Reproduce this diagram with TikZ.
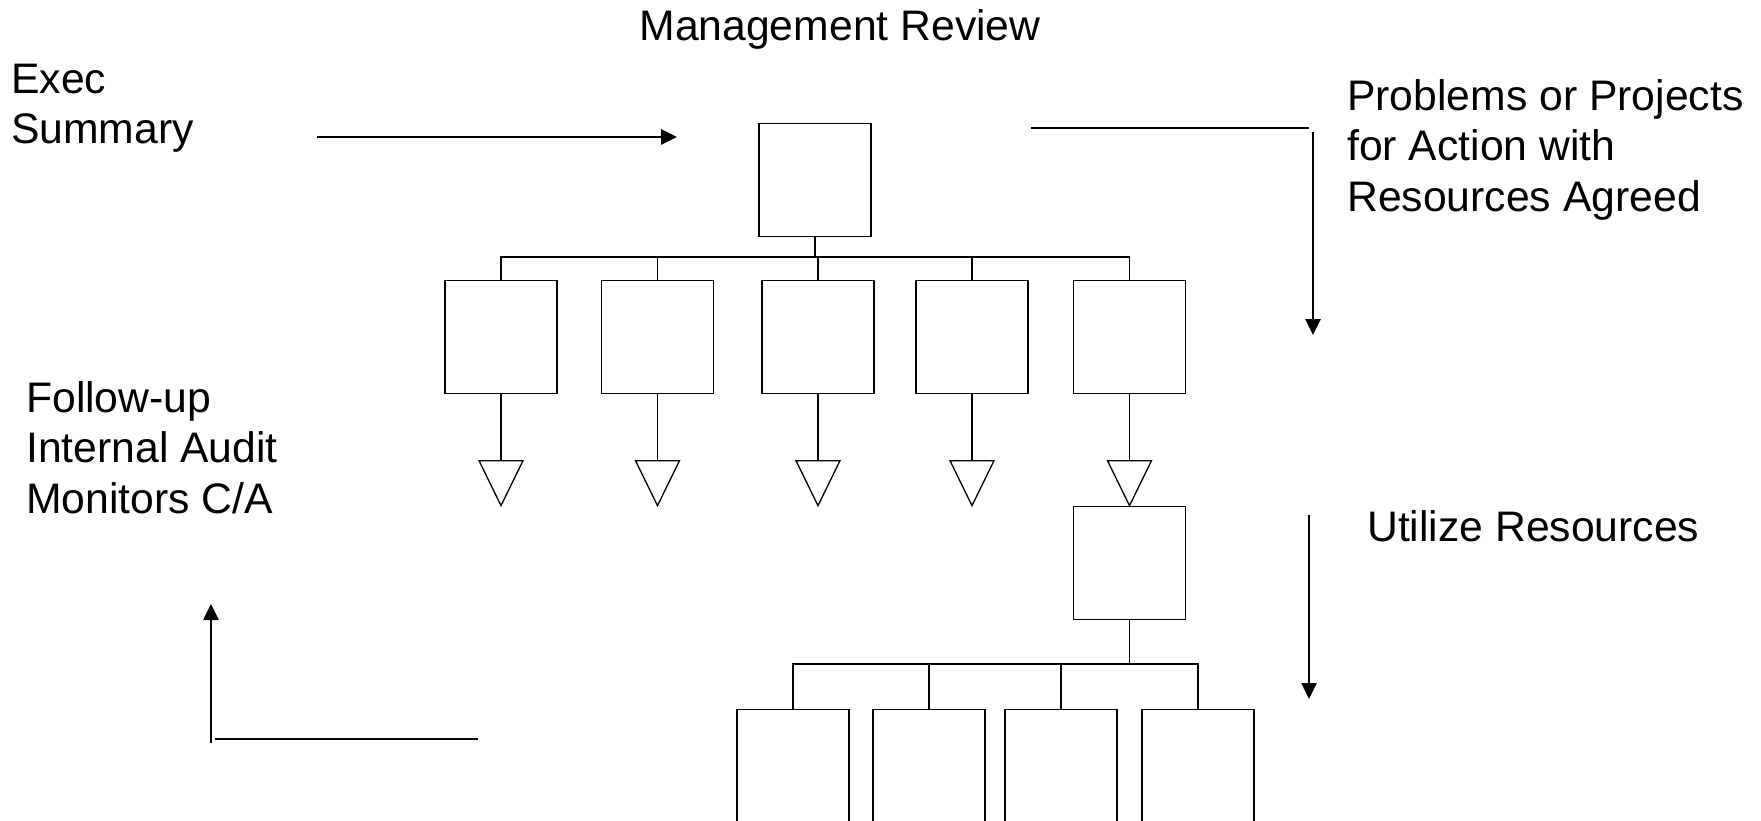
\documentclass[tikz,border=0pt]{standalone}
\usepackage{fontspec}
\setmainfont{Liberation Sans}
\usetikzlibrary{arrows.meta,shapes.geometric}
\begin{document}
\begin{tikzpicture}[x=1pt,y=-1pt,
  box/.style={draw=black, line width=1.3pt, minimum width=112pt, minimum height=113pt, inner sep=0pt, anchor=north},
  lowbox/.style={box, minimum height=125pt},
  tri/.style={draw=black, line width=1.3pt, isosceles triangle, shape border rotate=-90,
    isosceles triangle stretches, minimum width=44pt, minimum height=45pt, inner sep=0pt, anchor=north},
  wire/.style={draw=black, line width=1.3pt},
  flow/.style={draw=black, line width=2.6pt},
  arr/.style={flow, -{Triangle[length=16pt,width=15pt]}},
  lbl/.style={inner sep=0pt, font=\fontsize{42.7}{50.5}\selectfont, align=left},
]
% canvas
\fill[white] (0,0) rectangle (1761,821);
\useasboundingbox (0,0) rectangle (1761,821);

% labels
\node[lbl, anchor=base] (title) at (840,41) {Management Review};
\node[lbl, anchor=north west] (exec) at (11,63.5) {Exec\\Summary};
\node[lbl, anchor=north west] (probs) at (1347,79) {Problems or Projects\\for Action with\\Resources Agreed};
\node[lbl, anchor=north west] (follow) at (26,381) {Follow-up\\Internal Audit\\Monitors C/A};
\node[lbl, anchor=base west] (util) at (1367,541) {Utilize Resources};

% first level
\node[box] (mr) at (815,123) {};
\coordinate (bus) at (0,257);
\foreach \i/\x in {1/501,2/657.5,3/818,4/972,5/1129.5}{
  \node[box] (b\i) at (\x,280) {};
  \node[tri] (t\i) at (\x,460) {};
  \draw[wire] (b\i.south) -- (t\i.north);
}
\draw[wire] (mr.south) -- (mr.south |- bus);
\draw[wire] (b1.north) |- (b5.north |- bus) -- (b5.north);
\foreach \i in {2,3,4}{
  \draw[wire] (b\i.north) -- (b\i.north |- bus);
}

% second level
\node[box] (c) at (1129.5,505.5) {};
\coordinate (bus2) at (0,664);
\foreach \i/\x in {1/793,2/929,3/1061,4/1198}{
  \node[lowbox] (d\i) at (\x,709) {};
}
\draw[wire] (c.south) -- (c.south |- bus2);
\draw[wire] (d1.north) |- (d4.north |- bus2) -- (d4.north);
\foreach \i in {2,3}{
  \draw[wire] (d\i.north) -- (d\i.north |- bus2);
}

% flow arrows
\coordinate (e1) at (317,137);
\coordinate (e2) at (677,137);
\draw[arr] (e1) -- (e2);

\coordinate (p1) at (1031,128);
\coordinate (p2) at (1309,128);
\draw[flow] (p1) -- (p2);
\coordinate (q1) at (1313,132);
\coordinate (q2) at (1313,335);
\draw[arr] (q1) -- (q2);

\coordinate (u1) at (1309,515);
\coordinate (u2) at (1309,699);
\draw[arr] (u1) -- (u2);

\coordinate (f1) at (211,743);
\coordinate (f2) at (211,604);
\draw[arr] (f1) -- (f2);
\coordinate (g1) at (215,739);
\coordinate (g2) at (478,739);
\draw[flow] (g1) -- (g2);
\end{tikzpicture}
\end{document}
